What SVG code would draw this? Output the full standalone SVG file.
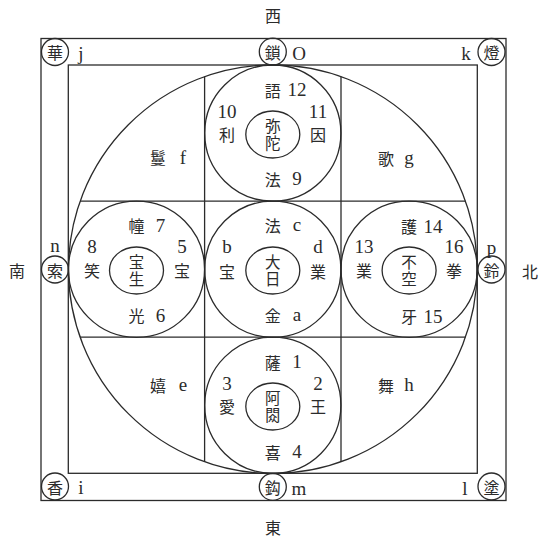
<svg xmlns="http://www.w3.org/2000/svg" width="539" height="539" viewBox="0 0 539 539">
<style>
.ln{fill:none;stroke:#2b2b2b;stroke-width:1.3}
.cj{font-family:"Noto Sans CJK JP","Noto Sans CJK SC",sans-serif;font-size:16px;fill:#2b2b2b;text-anchor:middle;dominant-baseline:central}
.in{font-family:"Noto Sans CJK JP","Noto Sans CJK SC",sans-serif;font-size:15.5px;fill:#2b2b2b;text-anchor:middle;writing-mode:vertical-rl;letter-spacing:2px}
.lt{font-family:"Liberation Serif",serif;font-size:19px;fill:#2b2b2b;text-anchor:middle;dominant-baseline:central}
</style>
<rect width="539" height="539" fill="#fff"/>
<g id="frame">
<rect class="ln" x="41" y="38.5" width="465" height="462"/>
<rect class="ln" x="68.3" y="65" width="409" height="408.3"/>
<circle class="ln" cx="272.8" cy="269.2" r="204.3"/>
</g>
<g id="connectors">
<line class="ln" x1="204.6" y1="76.4" x2="204.6" y2="462"/>
<line class="ln" x1="341" y1="76.4" x2="341" y2="462"/>
<line class="ln" x1="80" y1="201.1" x2="465.6" y2="201.1"/>
<line class="ln" x1="80" y1="337.2" x2="465.6" y2="337.2"/>
</g>
<g id="directions">
<text class="cj" x="273" y="15">西</text>
<text class="cj" x="273" y="527">東</text>
<text class="cj" x="17" y="270">南</text>
<text class="cj" x="530" y="271">北</text>
</g>
<g id="corner-hua"><circle class="ln" cx="55" cy="52" r="13.5"/><text class="cj" x="55" y="52">華</text><text class="lt" x="81" y="53">j</text></g>
<g id="corner-sa"><circle class="ln" cx="272.8" cy="51.7" r="13.5"/><text class="cj" x="272.8" y="51.7">鎖</text><text class="lt" x="299" y="53">O</text></g>
<g id="corner-to"><circle class="ln" cx="491.5" cy="52" r="13.5"/><text class="cj" x="491.5" y="52">燈</text><text class="lt" x="466" y="53">k</text></g>
<g id="corner-saku"><circle class="ln" cx="55" cy="269.5" r="13.5"/><text class="cj" x="55" y="269.5">索</text><text class="lt" x="55" y="245">n</text></g>
<g id="corner-rei"><circle class="ln" cx="491.5" cy="269.5" r="13.5"/><text class="cj" x="491.5" y="269.5">鈴</text><text class="lt" x="491.5" y="247">p</text></g>
<g id="corner-ko"><circle class="ln" cx="55" cy="486.5" r="13.5"/><text class="cj" x="55" y="486.5">香</text><text class="lt" x="81" y="487">i</text></g>
<g id="corner-ku"><circle class="ln" cx="272.8" cy="486.8" r="13.5"/><text class="cj" x="272.8" y="486.8">鈎</text><text class="lt" x="299" y="488">m</text></g>
<g id="corner-zu"><circle class="ln" cx="491.5" cy="486.5" r="13.5"/><text class="cj" x="491.5" y="486.5">塗</text><text class="lt" x="465" y="488">l</text></g>
<g id="region-f"><text class="cj" x="158" y="157">鬘</text><text class="lt" x="183" y="157">f</text></g>
<g id="region-g"><text class="cj" x="386" y="158">歌</text><text class="lt" x="409" y="157">g</text></g>
<g id="region-e"><text class="cj" x="158" y="385">嬉</text><text class="lt" x="183" y="384">e</text></g>
<g id="region-h"><text class="cj" x="386" y="385">舞</text><text class="lt" x="409" y="384">h</text></g>
<g id="amida">
<circle class="ln" cx="272.8" cy="133.1" r="68.1"/>
<ellipse class="ln" cx="272.8" cy="134.5" rx="27" ry="23.5"/>
<text class="in" x="272.8" y="135.5">弥陀</text>
<text class="cj" x="272.8" y="89.5">語</text><text class="lt" x="297" y="89.5">12</text>
<text class="lt" x="227" y="111">10</text><text class="cj" x="227" y="134">利</text>
<text class="lt" x="318" y="111">11</text><text class="cj" x="318" y="134">因</text>
<text class="cj" x="272.8" y="178.5">法</text><text class="lt" x="297" y="178.5">9</text>
</g>
<g id="hosho">
<circle class="ln" cx="136.5" cy="269.2" r="68.1"/>
<ellipse class="ln" cx="136.5" cy="270.5" rx="27" ry="23.5"/>
<text class="in" x="136.5" y="271.5">宝生</text>
<text class="cj" x="136.5" y="225">幢</text><text class="lt" x="160.5" y="225">7</text>
<text class="lt" x="92" y="246">8</text><text class="cj" x="92" y="270">笑</text>
<text class="lt" x="182" y="246">5</text><text class="cj" x="182" y="270">宝</text>
<text class="cj" x="136.5" y="315">光</text><text class="lt" x="160.5" y="315">6</text>
</g>
<g id="dainichi">
<circle class="ln" cx="272.8" cy="269.2" r="68.1"/>
<ellipse class="ln" cx="272.8" cy="270.5" rx="27" ry="23.5"/>
<text class="in" x="272.8" y="271.5">大日</text>
<text class="cj" x="272.8" y="225">法</text><text class="lt" x="297" y="224">c</text>
<text class="lt" x="227" y="246">b</text><text class="cj" x="227" y="271">宝</text>
<text class="lt" x="318" y="246">d</text><text class="cj" x="318" y="271">業</text>
<text class="cj" x="272.8" y="315">金</text><text class="lt" x="297" y="314">a</text>
</g>
<g id="fuku">
<circle class="ln" cx="409.1" cy="269.2" r="68.1"/>
<ellipse class="ln" cx="409.1" cy="270.5" rx="27" ry="23.5"/>
<text class="in" x="409.1" y="271.5">不空</text>
<text class="cj" x="409.1" y="226">護</text><text class="lt" x="433" y="226">14</text>
<text class="lt" x="364" y="246">13</text><text class="cj" x="364" y="270">業</text>
<text class="lt" x="454" y="246">16</text><text class="cj" x="454" y="270">拳</text>
<text class="cj" x="409.1" y="316">牙</text><text class="lt" x="433" y="316">15</text>
</g>
<g id="ashuku">
<circle class="ln" cx="272.8" cy="405.3" r="68.1"/>
<ellipse class="ln" cx="272.8" cy="406.5" rx="27" ry="23.5"/>
<text class="in" x="272.8" y="407.5">阿閦</text>
<text class="cj" x="272.8" y="361.5">薩</text><text class="lt" x="297" y="361.5">1</text>
<text class="lt" x="227" y="383">3</text><text class="cj" x="227" y="406">愛</text>
<text class="lt" x="318" y="383">2</text><text class="cj" x="318" y="406">王</text>
<text class="cj" x="272.8" y="451.5">喜</text><text class="lt" x="297" y="451.5">4</text>
</g>
</svg>
